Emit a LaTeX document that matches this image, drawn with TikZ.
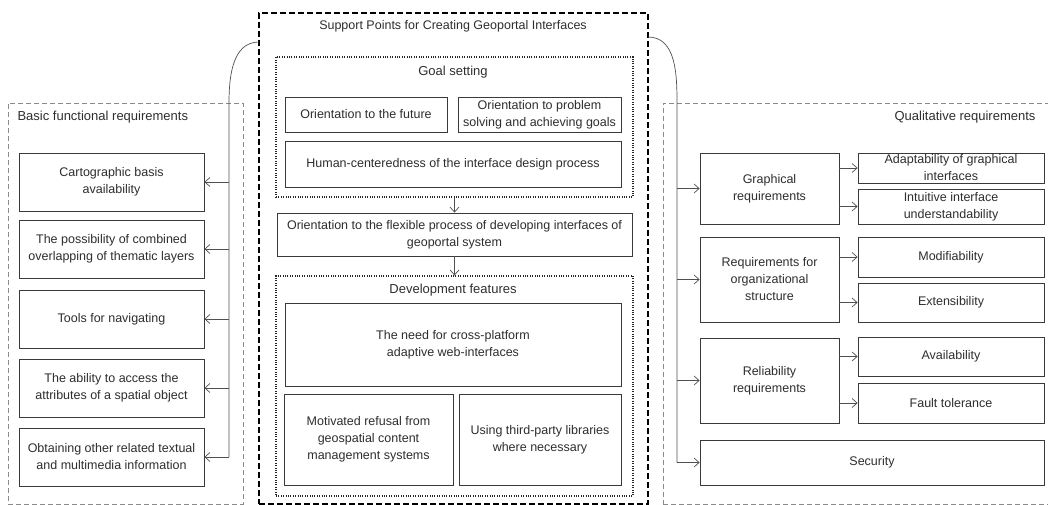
\documentclass[tikz,border=0pt]{standalone}
\usepackage{fontspec}
\setmainfont{Liberation Sans}
\usetikzlibrary{arrows.meta,shadows}

\definecolor{txtgray}{HTML}{2E2E2E}
\definecolor{boxgray}{HTML}{3A3A3A}
\definecolor{sidegray}{HTML}{8A8A8A}
\definecolor{linegray}{HTML}{505050}

\begin{document}
\begin{tikzpicture}[x=1pt, y=-1pt,
    every node/.style={text=txtgray, font=\fontsize{12.5}{17}\selectfont},
    box/.style={draw=boxgray, line width=0.8pt, fill=white, align=center, inner xsep=2pt, inner ysep=0pt,
      drop shadow={shadow xshift=1pt, shadow yshift=-1pt, opacity=0.25, fill=black}},
    sidebox/.style={draw=sidegray, line width=0.9pt, dash pattern=on 5pt off 3pt},
    mainbox/.style={draw=black, line width=1.4pt, dash pattern=on 6pt off 3pt},
    groupbox/.style={draw=black!85, line width=1.1pt, dash pattern=on 1pt off 1.4pt},
    heading/.style={font=\fontsize{13}{17}\selectfont},
    arr/.style={-{Straight Barb[length=5pt,width=9pt]}, draw=linegray, line width=0.7pt}
  ]
    \useasboundingbox (0,0) rectangle (1048,505);

    % Containers
    \node[sidebox, minimum width=235, minimum height=401] (basic) at (125.5,303.5) {};
    \node[sidebox, minimum width=389, minimum height=401] (quality) at (857.5,303.5) {};
    \node[mainbox, minimum width=389, minimum height=491] (support) at (453.5,258.5) {};
    \node[groupbox, minimum width=357, minimum height=140] (goal) at (454.5,127) {};
    \node[groupbox, minimum width=357, minimum height=220] (dev) at (454.5,386) {};

    % Titles
    \node[heading, anchor=west] (basictitle) at (14,117) {Basic functional requirements};
    \node[heading, anchor=east] (qualitytitle) at (1039,117) {Qualitative requirements};
    \node (supporttitle) at (453,26) {Support Points for Creating Geoportal Interfaces};
    \node[heading] (goaltitle) at (453,72) {Goal setting};
    \node[heading] (devtitle) at (453,290) {Development features};

    % Basic functional requirements
    \node[box, minimum width=185, minimum height=58] (carto) at (111.5,182) {Cartographic basis\\availability};
    \node[box, minimum width=185, minimum height=58] (overlap) at (111.5,249) {The possibility of combined\\overlapping of thematic layers};
    \node[box, minimum width=185, minimum height=58] (navig) at (111.5,319) {Tools for navigating};
    \node[box, minimum width=185, minimum height=58] (attrib) at (111.5,388) {The ability to access the\\attributes of a spatial object};
    \node[box, minimum width=185, minimum height=58] (media) at (111.5,457) {Obtaining other related textual\\and multimedia information};

    % Goal setting
    \node[box, minimum width=162, minimum height=35] (future) at (366,114.5) {Orientation to the future};
    \node[box, minimum width=163, minimum height=35] (problem) at (539.5,114.5) {Orientation to problem\\solving and achieving goals};
    \node[box, minimum width=336, minimum height=46] (human) at (453,164) {Human-centeredness of the interface design process};
    \node[box, minimum width=355, minimum height=43] (flex) at (454.5,234.5) {Orientation to the flexible process of developing interfaces of\\geoportal system};

    % Development features
    \node[box, minimum width=336, minimum height=83] (cross) at (453,344.5) {The need for cross-platform\\adaptive web-interfaces};
    \node[box, minimum width=169, minimum height=91] (refusal) at (368.5,439.5) {Motivated refusal from\\geospatial content\\management systems};
    \node[box, minimum width=162, minimum height=91] (thirdparty) at (540,439.5) {Using third-party libraries\\where necessary};

    % Qualitative requirements
    \node[box, minimum width=139, minimum height=71] (graph) at (769.5,188.5) {Graphical\\requirements};
    \node[box, minimum width=139, minimum height=85] (orgstr) at (769.5,279.5) {Requirements for\\organizational\\structure};
    \node[box, minimum width=139, minimum height=85] (reliab) at (769.5,380.5) {Reliability\\requirements};
    \node[box, minimum width=344, minimum height=45] (secur) at (872,462.5) {Security};
    \node[box, minimum width=186, minimum height=30] (adapt) at (951,168) {Adaptability of graphical\\interfaces};
    \node[box, minimum width=186, minimum height=35] (intuit) at (951,206.5) {Intuitive interface\\understandability};
    \node[box, minimum width=186, minimum height=40] (modif) at (951,257) {Modifiability};
    \node[box, minimum width=186, minimum height=39] (extens) at (951,302.5) {Extensibility};
    \node[box, minimum width=186, minimum height=39] (avail) at (951,356.5) {Availability};
    \node[box, minimum width=186, minimum height=40] (fault) at (951,403) {Fault tolerance};

    % Connectors
    \coordinate (ljoin) at (259,42);
    \coordinate (ltrunk) at (229,103);
    \coordinate (rjoin) at (648,37);
    \coordinate (rtrunk) at (677,103);
    \draw[draw=linegray, line width=0.7pt] (ljoin) to[out=180, in=90] (ltrunk) -- (ltrunk |- media.east);
    \draw[draw=linegray, line width=0.7pt] (rjoin) to[out=0, in=90] (rtrunk) -- (rtrunk |- secur.west);
    \foreach \b in {carto,overlap,navig,attrib,media}
      \draw[arr] (ltrunk |- \b.east) -- (\b.east);
    \foreach \b in {graph,orgstr,reliab,secur}
      \draw[arr] (rtrunk |- \b.west) -- (\b.west);
    \draw[arr] (graph.east |- adapt.west) -- (adapt.west);
    \draw[arr] (graph.east |- intuit.west) -- (intuit.west);
    \draw[arr] (orgstr.east |- modif.west) -- (modif.west);
    \draw[arr] (orgstr.east |- extens.west) -- (extens.west);
    \draw[arr] (reliab.east |- avail.west) -- (avail.west);
    \draw[arr] (reliab.east |- fault.west) -- (fault.west);
    \draw[arr] (goal.south) -- (flex.north);
    \draw[arr] (flex.south) -- (dev.north);
  \end{tikzpicture}
\end{document}
